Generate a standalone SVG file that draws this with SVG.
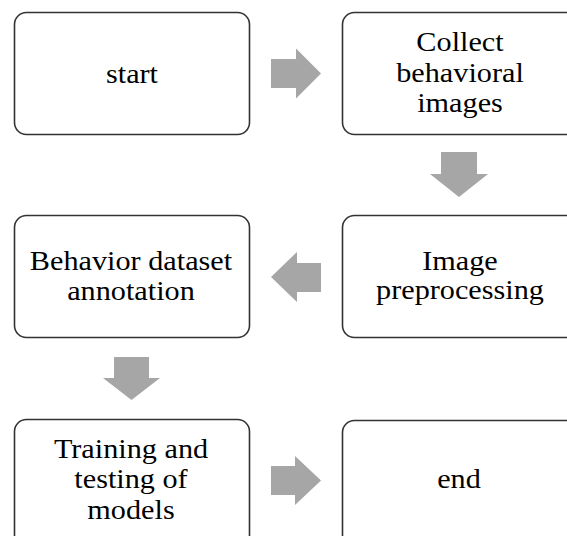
<svg xmlns="http://www.w3.org/2000/svg" width="567" height="536" viewBox="0 0 567 536">
<style>
.box{fill:#fff;stroke:#333;stroke-width:1.6}
.lbl{font-family:"Liberation Serif","Times New Roman",serif;font-size:27px;fill:#000;text-anchor:middle}
.arr{fill:#a6a6a6}
</style>
<rect width="567" height="536" fill="#fff"/>
<g id="connectors">
<polygon class="arr" points="271,59 296,59 296,48.5 321,73.5 296,98.5 296,88 271,88"/>
<polygon class="arr" points="441,152 477,152 477,174 488,174 459,197 430,174 441,174"/>
<polygon class="arr" points="321,263 297,263 297,252 271,277 297,302 297,292 321,292"/>
<polygon class="arr" points="114,357 149,357 149,378 160,378 131.5,400 103,378 114,378"/>
<polygon class="arr" points="271,466 295,466 295,456 321,480.5 295,505 295,495 271,495"/>
</g>
<g id="start">
<rect class="box" x="14.5" y="12.5" width="235" height="122" rx="12"/>
<text class="lbl" transform="translate(132,0) scale(1.12,1)"><tspan x="0" y="83">start</tspan></text>
</g>
<g id="collect">
<rect class="box" x="342.5" y="12.5" width="240" height="122" rx="12"/>
<text class="lbl" transform="translate(460,0) scale(1.12,1)"><tspan x="0" y="51">Collect</tspan><tspan x="0" y="82">behavioral</tspan><tspan x="0" y="112">images</tspan></text>
</g>
<g id="preprocessing">
<rect class="box" x="342.5" y="215.5" width="240" height="122" rx="12"/>
<text class="lbl" transform="translate(460,0) scale(1.12,1)"><tspan x="0" y="270">Image</tspan><tspan x="0" y="299">preprocessing</tspan></text>
</g>
<g id="annotation">
<rect class="box" x="14.5" y="215.5" width="235" height="122" rx="12"/>
<text class="lbl" transform="translate(131,0) scale(1.12,1)"><tspan x="0" y="270">Behavior dataset</tspan><tspan x="0" y="300">annotation</tspan></text>
</g>
<g id="training">
<rect class="box" x="14.5" y="419.5" width="235" height="128" rx="12"/>
<text class="lbl" transform="translate(131,0) scale(1.12,1)"><tspan x="0" y="458">Training and</tspan><tspan x="0" y="488">testing of</tspan><tspan x="0" y="519">models</tspan></text>
</g>
<g id="end">
<rect class="box" x="342.5" y="420.5" width="240" height="128" rx="12"/>
<text class="lbl" transform="translate(459,0) scale(1.12,1)"><tspan x="0" y="488">end</tspan></text>
</g>
</svg>
